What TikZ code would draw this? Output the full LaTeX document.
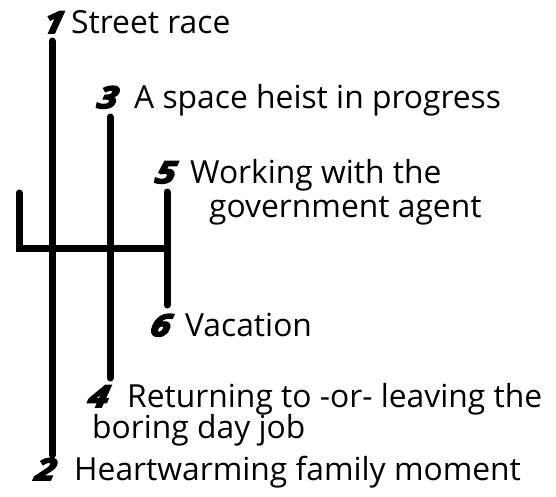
\documentclass[tikz,border=0pt]{standalone}
\usepackage{fontspec}
\setmainfont{Open Sans}
\newfontfamily\numfont[BoldItalicFeatures={FakeBold=6,FakeSlant=0.2,FakeStretch=1.2}]{Open Sans}
\begin{document}
\begin{tikzpicture}[x=1pt,y=-1pt,
  gear/.style={line width=7pt, line cap=round, line join=miter},
  lbl/.style={anchor=base west, inner sep=0pt, font=\fontsize{31.8}{34}\selectfont},
  num/.style={anchor=base west, inner sep=0pt, font=\fontsize{30}{34}\selectfont\numfont\bfseries\itshape}]
\useasboundingbox (0,0) rectangle (556,496);
% shift pattern
\coordinate (g1) at (52,41);
\coordinate (g2) at (52,455);
\coordinate (g3) at (110,117);
\coordinate (g4) at (110,378);
\coordinate (g5) at (167,192);
\coordinate (g6) at (167,305);
\coordinate (rv) at (19,193);
\coordinate (hl) at (19,248);
\coordinate (hr) at (167,248);
\draw[gear] (g1) -- (g2);
\draw[gear] (g3) -- (g4);
\draw[gear] (g5) -- (g6);
\draw[gear] (rv) -- (hl) -- (hr);
% labels
\node[num] (n1) at (42,33) {1};
\node[lbl] (t1) at (71,33) {Street race};
\node[num] (n3) at (96,108) {3};
\node[lbl] (t3) at (134,108) {A space heist in progress};
\node[num] (n5) at (154,183) {5};
\node[lbl] (t5a) at (190,183) {Working with the};
\node[lbl] (t5b) at (209,217) {government agent};
\node[num] (n6) at (149,336) {6};
\node[lbl] (t6) at (185,336) {Vacation};
\node[num] (n4) at (87,407) {4};
\node[lbl] (t4a) at (127,407) {Returning to -or- leaving the};
\node[lbl] (t4b) at (92,438) {boring day job};
\node[num] (n2) at (34,480) {2};
\node[lbl] (t2) at (74,480) {Heartwarming family moment};
\end{tikzpicture}
\end{document}
